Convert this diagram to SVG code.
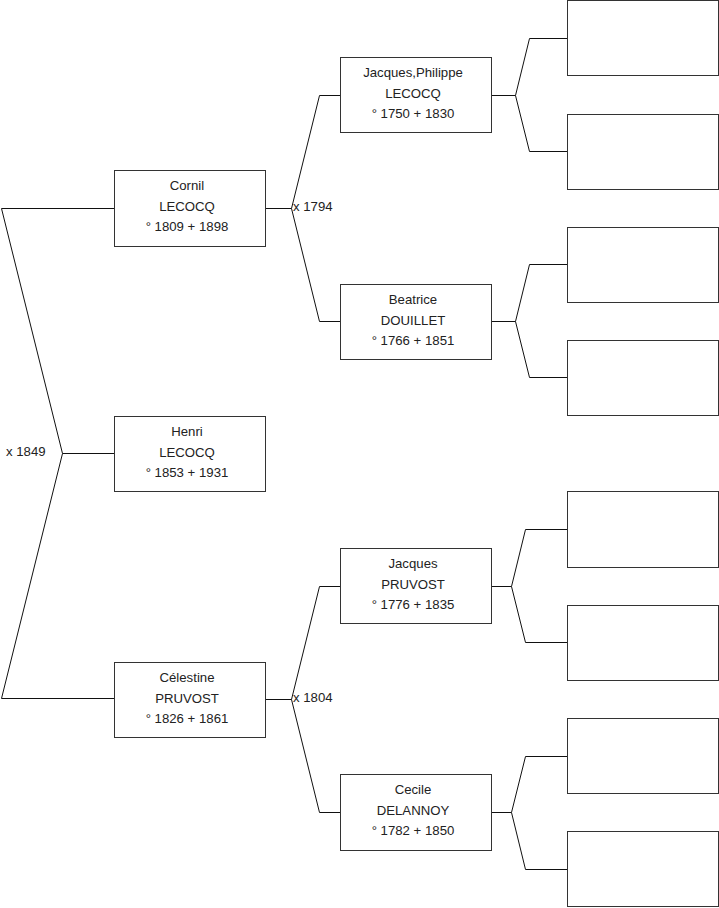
<svg xmlns="http://www.w3.org/2000/svg" width="719" height="908" viewBox="0 0 719 908">
<style>
.box{fill:#fff;stroke:#333;stroke-width:1}
.ln{fill:none;stroke:#111;stroke-width:1}
text{font-family:"Liberation Sans",Arial,sans-serif;font-size:13.2px;fill:#222}
.c{text-anchor:middle}
</style>
<rect width="719" height="908" fill="#fff"/>
<g id="connectors">
<path class="ln" d="M114,208.5 H1.5 L62.5,453.5 L1.5,698.5 H114 M62.5,453.5 H114"/>
<path class="ln" d="M265,208.5 H291.5 L319.5,95.5 H340 M291.5,208.5 L319.5,321.5 H340"/>
<path class="ln" d="M265,699.5 H291.5 L319.5,586.5 H340 M291.5,699.5 L319.5,812.5 H340"/>
<path class="ln" d="M491,95.5 H515.5 L529.5,38.5 H567 M515.5,95.5 L529.5,151.5 H567"/>
<path class="ln" d="M491,321.5 H515.5 L529.5,264.5 H567 M515.5,321.5 L529.5,377.5 H567"/>
<path class="ln" d="M491,586.5 H511.5 L525.5,529.5 H567 M511.5,586.5 L525.5,642.5 H567"/>
<path class="ln" d="M491,812.5 H511.5 L525.5,756.5 H567 M511.5,812.5 L525.5,869.5 H567"/>
<text x="6" y="456">x 1849</text>
<text x="293" y="211">x 1794</text>
<text x="293" y="702">x 1804</text>
</g>
<g id="henri"><rect class="box" x="114.5" y="416.5" width="151" height="75"/>
<text class="c" x="187" y="436">Henri</text><text class="c" x="187" y="457">LECOCQ</text><text class="c" x="187" y="477">° 1853 + 1931</text></g>
<g id="cornil"><rect class="box" x="114.5" y="170.5" width="151" height="76"/>
<text class="c" x="187" y="190">Cornil</text><text class="c" x="187" y="211">LECOCQ</text><text class="c" x="187" y="231">° 1809 + 1898</text></g>
<g id="celestine"><rect class="box" x="114.5" y="662.5" width="151" height="75"/>
<text class="c" x="187" y="682">Célestine</text><text class="c" x="187" y="703">PRUVOST</text><text class="c" x="187" y="723">° 1826 + 1861</text></g>
<g id="jacques-philippe"><rect class="box" x="340.5" y="57.5" width="151" height="75"/>
<text class="c" x="413" y="77">Jacques,Philippe</text><text class="c" x="413" y="98">LECOCQ</text><text class="c" x="413" y="118">° 1750 + 1830</text></g>
<g id="beatrice"><rect class="box" x="340.5" y="284.5" width="151" height="75"/>
<text class="c" x="413" y="304">Beatrice</text><text class="c" x="413" y="325">DOUILLET</text><text class="c" x="413" y="345">° 1766 + 1851</text></g>
<g id="jacques"><rect class="box" x="340.5" y="548.5" width="151" height="75"/>
<text class="c" x="413" y="568">Jacques</text><text class="c" x="413" y="589">PRUVOST</text><text class="c" x="413" y="609">° 1776 + 1835</text></g>
<g id="cecile"><rect class="box" x="340.5" y="774.5" width="151" height="76"/>
<text class="c" x="413" y="794">Cecile</text><text class="c" x="413" y="815">DELANNOY</text><text class="c" x="413" y="835">° 1782 + 1850</text></g>
<g id="g3-1"><rect class="box" x="567.5" y="0.5" width="151" height="75"/></g>
<g id="g3-2"><rect class="box" x="567.5" y="114.5" width="151" height="75"/></g>
<g id="g3-3"><rect class="box" x="567.5" y="227.5" width="151" height="75"/></g>
<g id="g3-4"><rect class="box" x="567.5" y="340.5" width="151" height="75"/></g>
<g id="g3-5"><rect class="box" x="567.5" y="491.5" width="151" height="76"/></g>
<g id="g3-6"><rect class="box" x="567.5" y="605.5" width="151" height="75"/></g>
<g id="g3-7"><rect class="box" x="567.5" y="718.5" width="151" height="75"/></g>
<g id="g3-8"><rect class="box" x="567.5" y="831.5" width="151" height="75"/></g>
</svg>
